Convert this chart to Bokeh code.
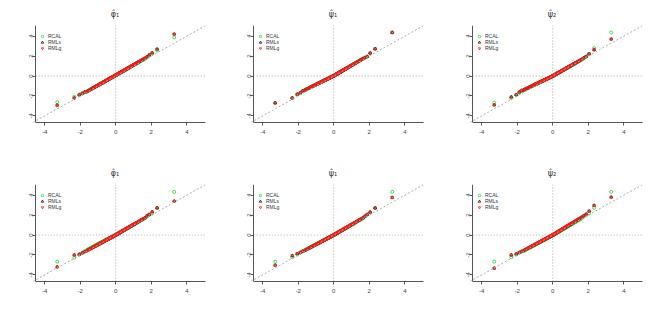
from bokeh.plotting import figure
from bokeh.layouts import row, column
from bokeh.models import Range1d, LinearAxis, FixedTicker, Slope, Legend, LegendItem
from bokeh.embed import file_html
from bokeh.resources import INLINE

# theoretical normal quantiles (p = 0.0005, 0.01 ... 0.99, 0.9995)
X_Q = [-3.29, -2.33, -2.05, -1.88, -1.75, -1.64, -1.55, -1.48, -1.41, -1.34, -1.28, -1.23, -1.17, -1.13, -1.08,
       -1.04, -0.99, -0.95, -0.92, -0.88, -0.84, -0.81, -0.77, -0.74, -0.71, -0.67, -0.64, -0.61, -0.58, -0.55,
       -0.52, -0.50, -0.47, -0.44, -0.41, -0.39, -0.36, -0.33, -0.31, -0.28, -0.25, -0.23, -0.20, -0.18, -0.15,
       -0.13, -0.10, -0.08, -0.05, -0.03, 0.00, 0.03, 0.05, 0.08, 0.10, 0.13, 0.15, 0.18, 0.20, 0.23, 0.25, 0.28,
       0.31, 0.33, 0.36, 0.39, 0.41, 0.44, 0.47, 0.50, 0.52, 0.55, 0.58, 0.61, 0.64, 0.67, 0.71, 0.74, 0.77, 0.81,
       0.84, 0.88, 0.92, 0.95, 0.99, 1.04, 1.08, 1.13, 1.17, 1.23, 1.28, 1.34, 1.41, 1.48, 1.55, 1.64, 1.75, 1.88,
       2.05, 2.33, 3.29]

P1_RCAL = [-2.63, -2.07, -1.85, -1.72, -1.60,
           -1.56, -1.47, -1.40, -1.33, -1.26, -1.20, -1.15, -1.09, -1.05, -1.00, -0.96, -0.91, -0.87, -0.84, -0.80,
           -0.76, -0.73, -0.69, -0.66, -0.63, -0.59, -0.56, -0.53, -0.50, -0.47, -0.44, -0.42, -0.39, -0.36, -0.33,
           -0.31, -0.28, -0.25, -0.23, -0.20, -0.17, -0.15, -0.12, -0.10, -0.07, -0.05, -0.02, 0.00, 0.03, 0.05,
           0.08,
           0.11, 0.13, 0.16, 0.18, 0.21, 0.23, 0.26, 0.28, 0.31, 0.33, 0.36, 0.39, 0.41, 0.44, 0.47, 0.49, 0.52,
           0.55, 0.58, 0.60, 0.63, 0.66, 0.69, 0.72, 0.75, 0.79, 0.82, 0.85, 0.89, 0.92, 0.96, 1.00, 1.03, 1.07,
           1.12, 1.16, 1.21, 1.25, 1.31, 1.36, 1.42, 1.49, 1.56, 1.63, 1.72,
           1.85, 2.03, 2.25, 2.57, 3.87]
P1_RML = [-2.93, -2.20, -1.90, -1.76, -1.63,
          -1.58, -1.49, -1.41, -1.34, -1.27, -1.21, -1.16, -1.10, -1.06, -1.01, -0.97, -0.92, -0.88, -0.85, -0.81,
          -0.77, -0.74, -0.70, -0.67, -0.64, -0.60, -0.57, -0.54, -0.51, -0.48, -0.45, -0.43, -0.39, -0.36, -0.33,
          -0.31, -0.28, -0.25, -0.23, -0.20, -0.17, -0.15, -0.12, -0.10, -0.07, -0.05, -0.02, 0.00, 0.03, 0.05,
          0.08,
          0.11, 0.13, 0.16, 0.18, 0.22, 0.24, 0.27, 0.29, 0.32, 0.34, 0.37, 0.40, 0.42, 0.45, 0.49, 0.51, 0.54,
          0.57, 0.60, 0.62, 0.65, 0.68, 0.71, 0.75, 0.78, 0.82, 0.85, 0.88, 0.92, 0.95, 1.00, 1.04, 1.07, 1.11,
          1.16, 1.20, 1.26, 1.30, 1.36, 1.41, 1.47, 1.55, 1.62, 1.69, 1.79,
          1.92, 2.12, 2.33, 2.70, 4.20]

P2_RML = [-2.70, -2.20, -1.83, -1.70, -1.50,
          -1.42, -1.34, -1.28, -1.22, -1.16, -1.11, -1.06, -1.01, -0.97, -0.93, -0.90, -0.85, -0.82, -0.79, -0.75,
          -0.72, -0.69, -0.66, -0.63, -0.60, -0.57, -0.54, -0.52, -0.49, -0.46, -0.44, -0.42, -0.39, -0.37, -0.34,
          -0.32, -0.30, -0.27, -0.25, -0.23, -0.20, -0.18, -0.16, -0.14, -0.11, -0.09, -0.07, -0.05, -0.02, -0.01,
          0.02,
          0.05, 0.07, 0.10, 0.13, 0.16, 0.18, 0.21, 0.23, 0.26, 0.28, 0.31, 0.35, 0.37, 0.40, 0.43, 0.45, 0.48,
          0.51, 0.55, 0.57, 0.60, 0.63, 0.66, 0.69, 0.72, 0.77, 0.80, 0.83, 0.87, 0.90, 0.94, 0.99, 1.02, 1.06,
          1.11, 1.15, 1.21, 1.25, 1.31, 1.36, 1.43, 1.50, 1.57, 1.65, 1.74,
          1.84, 1.95, 2.30, 2.73, 4.37]
P2_RCAL = P2_RML

P3_RCAL = [-2.67, -2.20, -1.90, -1.67, -1.50,
           -1.43, -1.35, -1.29, -1.23, -1.17, -1.11, -1.07, -1.02, -0.98, -0.94, -0.90, -0.86, -0.83, -0.80, -0.77,
           -0.73, -0.70, -0.67, -0.64, -0.62, -0.58, -0.56, -0.53, -0.50, -0.48, -0.45, -0.44, -0.41, -0.38, -0.36,
           -0.34, -0.31, -0.29, -0.27, -0.24, -0.22, -0.20, -0.17, -0.16, -0.13, -0.11, -0.09, -0.07, -0.04, -0.03,
           0.00,
           0.03, 0.05, 0.08, 0.10, 0.13, 0.15, 0.18, 0.20, 0.23, 0.25, 0.28, 0.31, 0.33, 0.36, 0.39, 0.41, 0.44,
           0.47, 0.50, 0.52, 0.55, 0.58, 0.61, 0.64, 0.67, 0.71, 0.74, 0.77, 0.81, 0.84, 0.88, 0.92, 0.95, 0.99,
           1.04, 1.08, 1.13, 1.17, 1.23, 1.28, 1.34, 1.41, 1.48, 1.55, 1.64,
           1.78, 1.93, 2.20, 2.80, 4.37]
P3_RML = [-2.90, -2.10, -1.87, -1.60, -1.45,
          -1.39, -1.32, -1.26, -1.20, -1.14, -1.09, -1.05, -0.99, -0.96, -0.92, -0.88, -0.84, -0.81, -0.78, -0.75,
          -0.71, -0.69, -0.65, -0.63, -0.60, -0.57, -0.54, -0.52, -0.49, -0.47, -0.44, -0.43, -0.40, -0.37, -0.35,
          -0.33, -0.31, -0.28, -0.26, -0.24, -0.21, -0.20, -0.17, -0.15, -0.13, -0.11, -0.09, -0.07, -0.04, -0.03,
          0.00,
          0.03, 0.05, 0.08, 0.10, 0.13, 0.15, 0.19, 0.21, 0.24, 0.26, 0.29, 0.32, 0.34, 0.37, 0.40, 0.42, 0.45,
          0.48, 0.52, 0.54, 0.57, 0.60, 0.63, 0.66, 0.69, 0.73, 0.76, 0.79, 0.83, 0.87, 0.91, 0.95, 0.98, 1.02,
          1.07, 1.11, 1.16, 1.21, 1.27, 1.32, 1.38, 1.45, 1.52, 1.60, 1.69,
          1.82, 1.97, 2.23, 2.63, 3.70]

P4_RCAL = [-2.67, -2.27, -1.98, -1.76, -1.62,
           -1.51, -1.42, -1.36, -1.29, -1.23, -1.17, -1.12, -1.07, -1.03, -0.98, -0.95, -0.90, -0.86, -0.84, -0.80,
           -0.76, -0.73, -0.70, -0.67, -0.64, -0.60, -0.58, -0.55, -0.52, -0.49, -0.46, -0.45, -0.42, -0.39, -0.36,
           -0.34, -0.31, -0.29, -0.27, -0.24, -0.21, -0.19, -0.17, -0.15, -0.12, -0.10, -0.07, -0.05, -0.03, -0.01,
           0.02,
           0.05, 0.07, 0.10, 0.12, 0.15, 0.17, 0.20, 0.22, 0.25, 0.28, 0.31, 0.34, 0.36, 0.39, 0.42, 0.44, 0.47,
           0.50, 0.53, 0.55, 0.58, 0.61, 0.64, 0.67, 0.70, 0.74, 0.77, 0.81, 0.85, 0.88, 0.92, 0.96, 0.99, 1.03,
           1.08, 1.12, 1.17, 1.21, 1.27, 1.33, 1.39, 1.46, 1.53, 1.60, 1.69,
           1.85, 2.00, 2.17, 2.70, 4.33]
P4_RML = [-3.20, -2.00, -1.93, -1.80, -1.68,
          -1.59, -1.50, -1.44, -1.37, -1.30, -1.24, -1.19, -1.13, -1.10, -1.05, -1.01, -0.96, -0.92, -0.89, -0.85,
          -0.81, -0.79, -0.75, -0.72, -0.69, -0.65, -0.62, -0.59, -0.56, -0.53, -0.50, -0.49, -0.46, -0.43, -0.40,
          -0.38, -0.35, -0.32, -0.30, -0.27, -0.24, -0.22, -0.19, -0.17, -0.15, -0.13, -0.10, -0.08, -0.05, -0.03,
          0.00,
          0.03, 0.05, 0.08, 0.11, 0.14, 0.16, 0.19, 0.21, 0.24, 0.26, 0.29, 0.33, 0.35, 0.38, 0.41, 0.43, 0.46,
          0.49, 0.53, 0.55, 0.58, 0.61, 0.64, 0.67, 0.70, 0.75, 0.78, 0.81, 0.85, 0.88, 0.92, 0.97, 1.00, 1.04,
          1.09, 1.13, 1.19, 1.23, 1.29, 1.34, 1.41, 1.48, 1.55, 1.63, 1.72,
          1.92, 2.07, 2.33, 2.73, 3.40]

P5_RCAL = [-2.67, -2.23, -1.95, -1.74, -1.60,
           -1.53, -1.44, -1.38, -1.31, -1.25, -1.19, -1.14, -1.09, -1.05, -1.00, -0.97, -0.92, -0.88, -0.86, -0.82,
           -0.78, -0.75, -0.72, -0.69, -0.66, -0.62, -0.60, -0.57, -0.54, -0.51, -0.48, -0.47, -0.44, -0.41, -0.38,
           -0.36, -0.33, -0.31, -0.29, -0.26, -0.23, -0.21, -0.19, -0.17, -0.14, -0.12, -0.09, -0.07, -0.05, -0.03,
           0.00,
           0.03, 0.05, 0.08, 0.10, 0.13, 0.15, 0.18, 0.20, 0.23, 0.26, 0.29, 0.32, 0.34, 0.37, 0.40, 0.42, 0.45,
           0.48, 0.51, 0.53, 0.56, 0.59, 0.62, 0.65, 0.68, 0.72, 0.75, 0.79, 0.83, 0.86, 0.90, 0.94, 0.97, 1.01,
           1.06, 1.10, 1.15, 1.19, 1.25, 1.31, 1.37, 1.44, 1.51, 1.58, 1.67,
           1.84, 2.00, 2.26, 2.72, 4.33]
P5_RML = [-3.03, -2.07, -1.87, -1.76, -1.64,
          -1.56, -1.47, -1.41, -1.34, -1.27, -1.22, -1.17, -1.11, -1.07, -1.03, -0.99, -0.94, -0.90, -0.87, -0.84,
          -0.80, -0.77, -0.73, -0.70, -0.67, -0.64, -0.61, -0.58, -0.55, -0.52, -0.49, -0.48, -0.45, -0.42, -0.39,
          -0.37, -0.34, -0.31, -0.29, -0.27, -0.24, -0.22, -0.19, -0.17, -0.14, -0.12, -0.10, -0.08, -0.05, -0.03,
          0.00,
          0.03, 0.05, 0.08, 0.11, 0.14, 0.16, 0.19, 0.21, 0.24, 0.26, 0.29, 0.33, 0.35, 0.38, 0.41, 0.43, 0.46,
          0.49, 0.53, 0.55, 0.58, 0.61, 0.64, 0.67, 0.70, 0.75, 0.78, 0.81, 0.85, 0.88, 0.92, 0.97, 1.00, 1.04,
          1.09, 1.13, 1.19, 1.23, 1.29, 1.34, 1.41, 1.48, 1.55, 1.63, 1.72,
          1.88, 2.07, 2.30, 2.70, 3.77]

P6_RCAL = [-2.67, -2.23, -1.95, -1.78, -1.66,
           -1.61, -1.52, -1.46, -1.39, -1.32, -1.26, -1.21, -1.15, -1.12, -1.07, -1.03, -0.98, -0.94, -0.91, -0.87,
           -0.83, -0.81, -0.77, -0.74, -0.71, -0.67, -0.64, -0.61, -0.58, -0.55, -0.52, -0.51, -0.48, -0.45, -0.42,
           -0.40, -0.37, -0.34, -0.32, -0.29, -0.26, -0.24, -0.21, -0.19, -0.17, -0.15, -0.12, -0.10, -0.07, -0.05,
           -0.02,
           0.01, 0.03, 0.06, 0.08, 0.11, 0.13, 0.17, 0.19, 0.22, 0.24, 0.27, 0.30, 0.32, 0.35, 0.38, 0.40, 0.43,
           0.46, 0.50, 0.52, 0.55, 0.58, 0.61, 0.64, 0.67, 0.71, 0.74, 0.77, 0.81, 0.85, 0.89, 0.93, 0.96, 1.00,
           1.05, 1.09, 1.14, 1.19, 1.25, 1.30, 1.36, 1.43, 1.50, 1.58, 1.67,
           1.84, 1.98, 2.17, 2.73, 4.33]
P6_RML = [-3.33, -2.00, -1.90, -1.75, -1.64,
          -1.56, -1.47, -1.41, -1.34, -1.27, -1.22, -1.17, -1.11, -1.07, -1.03, -0.99, -0.94, -0.90, -0.87, -0.84,
          -0.80, -0.77, -0.73, -0.70, -0.67, -0.64, -0.61, -0.58, -0.55, -0.52, -0.49, -0.48, -0.45, -0.42, -0.39,
          -0.37, -0.34, -0.31, -0.29, -0.27, -0.24, -0.22, -0.19, -0.17, -0.14, -0.12, -0.10, -0.08, -0.05, -0.03,
          0.00,
          0.03, 0.06, 0.09, 0.11, 0.14, 0.17, 0.20, 0.22, 0.25, 0.28, 0.31, 0.34, 0.36, 0.40, 0.43, 0.45, 0.48,
          0.52, 0.55, 0.57, 0.61, 0.64, 0.67, 0.70, 0.74, 0.78, 0.81, 0.85, 0.89, 0.92, 0.97, 1.01, 1.05, 1.09,
          1.14, 1.19, 1.24, 1.29, 1.35, 1.41, 1.47, 1.55, 1.63, 1.71, 1.80,
          1.95, 2.10, 2.40, 2.97, 3.80]

TITLES = ["\u03c6\u0302\u2081", "\u03c8\u0302\u2081", "\u03c8\u0302\u2082",
          "\u03c6\u0302\u2081", "\u03c8\u0302\u2081", "\u03c8\u0302\u2082"]
SERIES = ["RCAL", "RMLs", "RMLg"]
PANEL_DATA = [(P1_RCAL, P1_RML, P1_RML), (P2_RCAL, P2_RML, P2_RML), (P3_RCAL, P3_RML, P3_RML),
              (P4_RCAL, P4_RML, P4_RML), (P5_RCAL, P5_RML, P5_RML), (P6_RCAL, P6_RML, P6_RML)]
TICKS = [-4, -2, 0, 2, 4]

for d in PANEL_DATA:
    for s in d:
        assert len(s) == len(X_Q), len(s)

# layout constants
X_LO, X_HI = -5.13, 5.05
Y_HI = 5.07
X_AXIS_START = -4.5    # where the left axis sits (x data)
Y_AXIS_START = -4.66   # bottom of the plotting box (y data)
FW, FH = 181, 97
COLORS = ["#1fd81f", "#111111", "#ff1a1a"]
MARKERS = ["circle", "triangle", "inverted_triangle"]
AXC = "#555555"


def make_panel(title, data, bl, br, bt, bb):
    p = figure(frame_width=FW, frame_height=FH, x_range=Range1d(X_LO, X_HI), y_range=Range1d(Y_AXIS_START, Y_HI),
               output_backend="svg", toolbar_location=None, x_axis_location=None, y_axis_location=None,
               min_border_left=bl, min_border_right=br, min_border_top=bt, min_border_bottom=bb)
    p.grid.visible = False
    p.outline_line_color = None
    p.background_fill_color = "white"
    p.border_fill_color = "white"

    p.title.text = title
    p.title.align = "center"
    p.title.text_font = "DejaVu Sans"
    p.title.text_font_size = "8px"
    p.title.text_font_style = "normal"
    p.title.text_color = "#333333"
    p.title.standoff = 13

    labels = {t: str(t) for t in TICKS}
    xa = LinearAxis(bounds=(X_AXIS_START, X_HI), ticker=FixedTicker(ticks=TICKS),
                    major_label_overrides=labels)
    ya = LinearAxis(fixed_location=X_AXIS_START, bounds=(Y_AXIS_START, Y_HI), ticker=FixedTicker(ticks=TICKS),
                    major_label_overrides=labels, major_label_orientation="vertical")
    for ax, so in ((xa, 4), (ya, 0)):
        ax.axis_line_color = AXC
        ax.major_tick_line_color = AXC
        ax.major_tick_in = 0
        ax.major_tick_out = 3
        ax.minor_tick_in = 0
        ax.minor_tick_out = 0
        ax.major_label_standoff = so
        ax.major_label_text_font = "Liberation Sans"
        ax.major_label_text_font_size = "6px"
        ax.major_label_text_color = "#444444"
    p.add_layout(xa, "below")
    p.add_layout(ya, "left")

    # reference lines
    p.add_layout(Slope(gradient=1, y_intercept=0, line_color="#aaaaaa", line_dash="2 2", line_width=1))
    p.segment(x0=[X_AXIS_START], y0=[0], x1=[X_HI], y1=[0], line_color="#aaaaaa", line_dash="1 2", line_width=1)
    p.segment(x0=[0], y0=[Y_AXIS_START], x1=[0], y1=[Y_HI], line_color="#aaaaaa", line_dash="1 2", line_width=1)

    items = []
    for name, ys, col, mk in zip(SERIES, data, COLORS, MARKERS):
        r = p.scatter(X_Q, ys, marker=mk, size=3.0, fill_color=None, line_color=col, line_width=0.8)
        items.append(LegendItem(label=name, renderers=[r]))
    leg = Legend(items=items, location=(14, 71), margin=0, padding=0, spacing=0,
                 glyph_width=8, glyph_height=6, label_height=6, label_standoff=2,
                 label_text_font="Liberation Sans", label_text_font_size="5px", label_text_color="#333333",
                 border_line_color=None, background_fill_alpha=0)
    p.add_layout(leg)
    return p


borders = [(24, 21), (16, 21), (17, 10)]
figs = []
for i, (t, d) in enumerate(zip(TITLES, PANEL_DATA)):
    bl, br = borders[i % 3]
    bb = 37 if i < 3 else 30
    figs.append(make_panel(t, d, bl, br, 25, bb))

layout = column(row(*figs[:3]), row(*figs[3:]))
open("out.html", "w").write(file_html(layout, INLINE))
